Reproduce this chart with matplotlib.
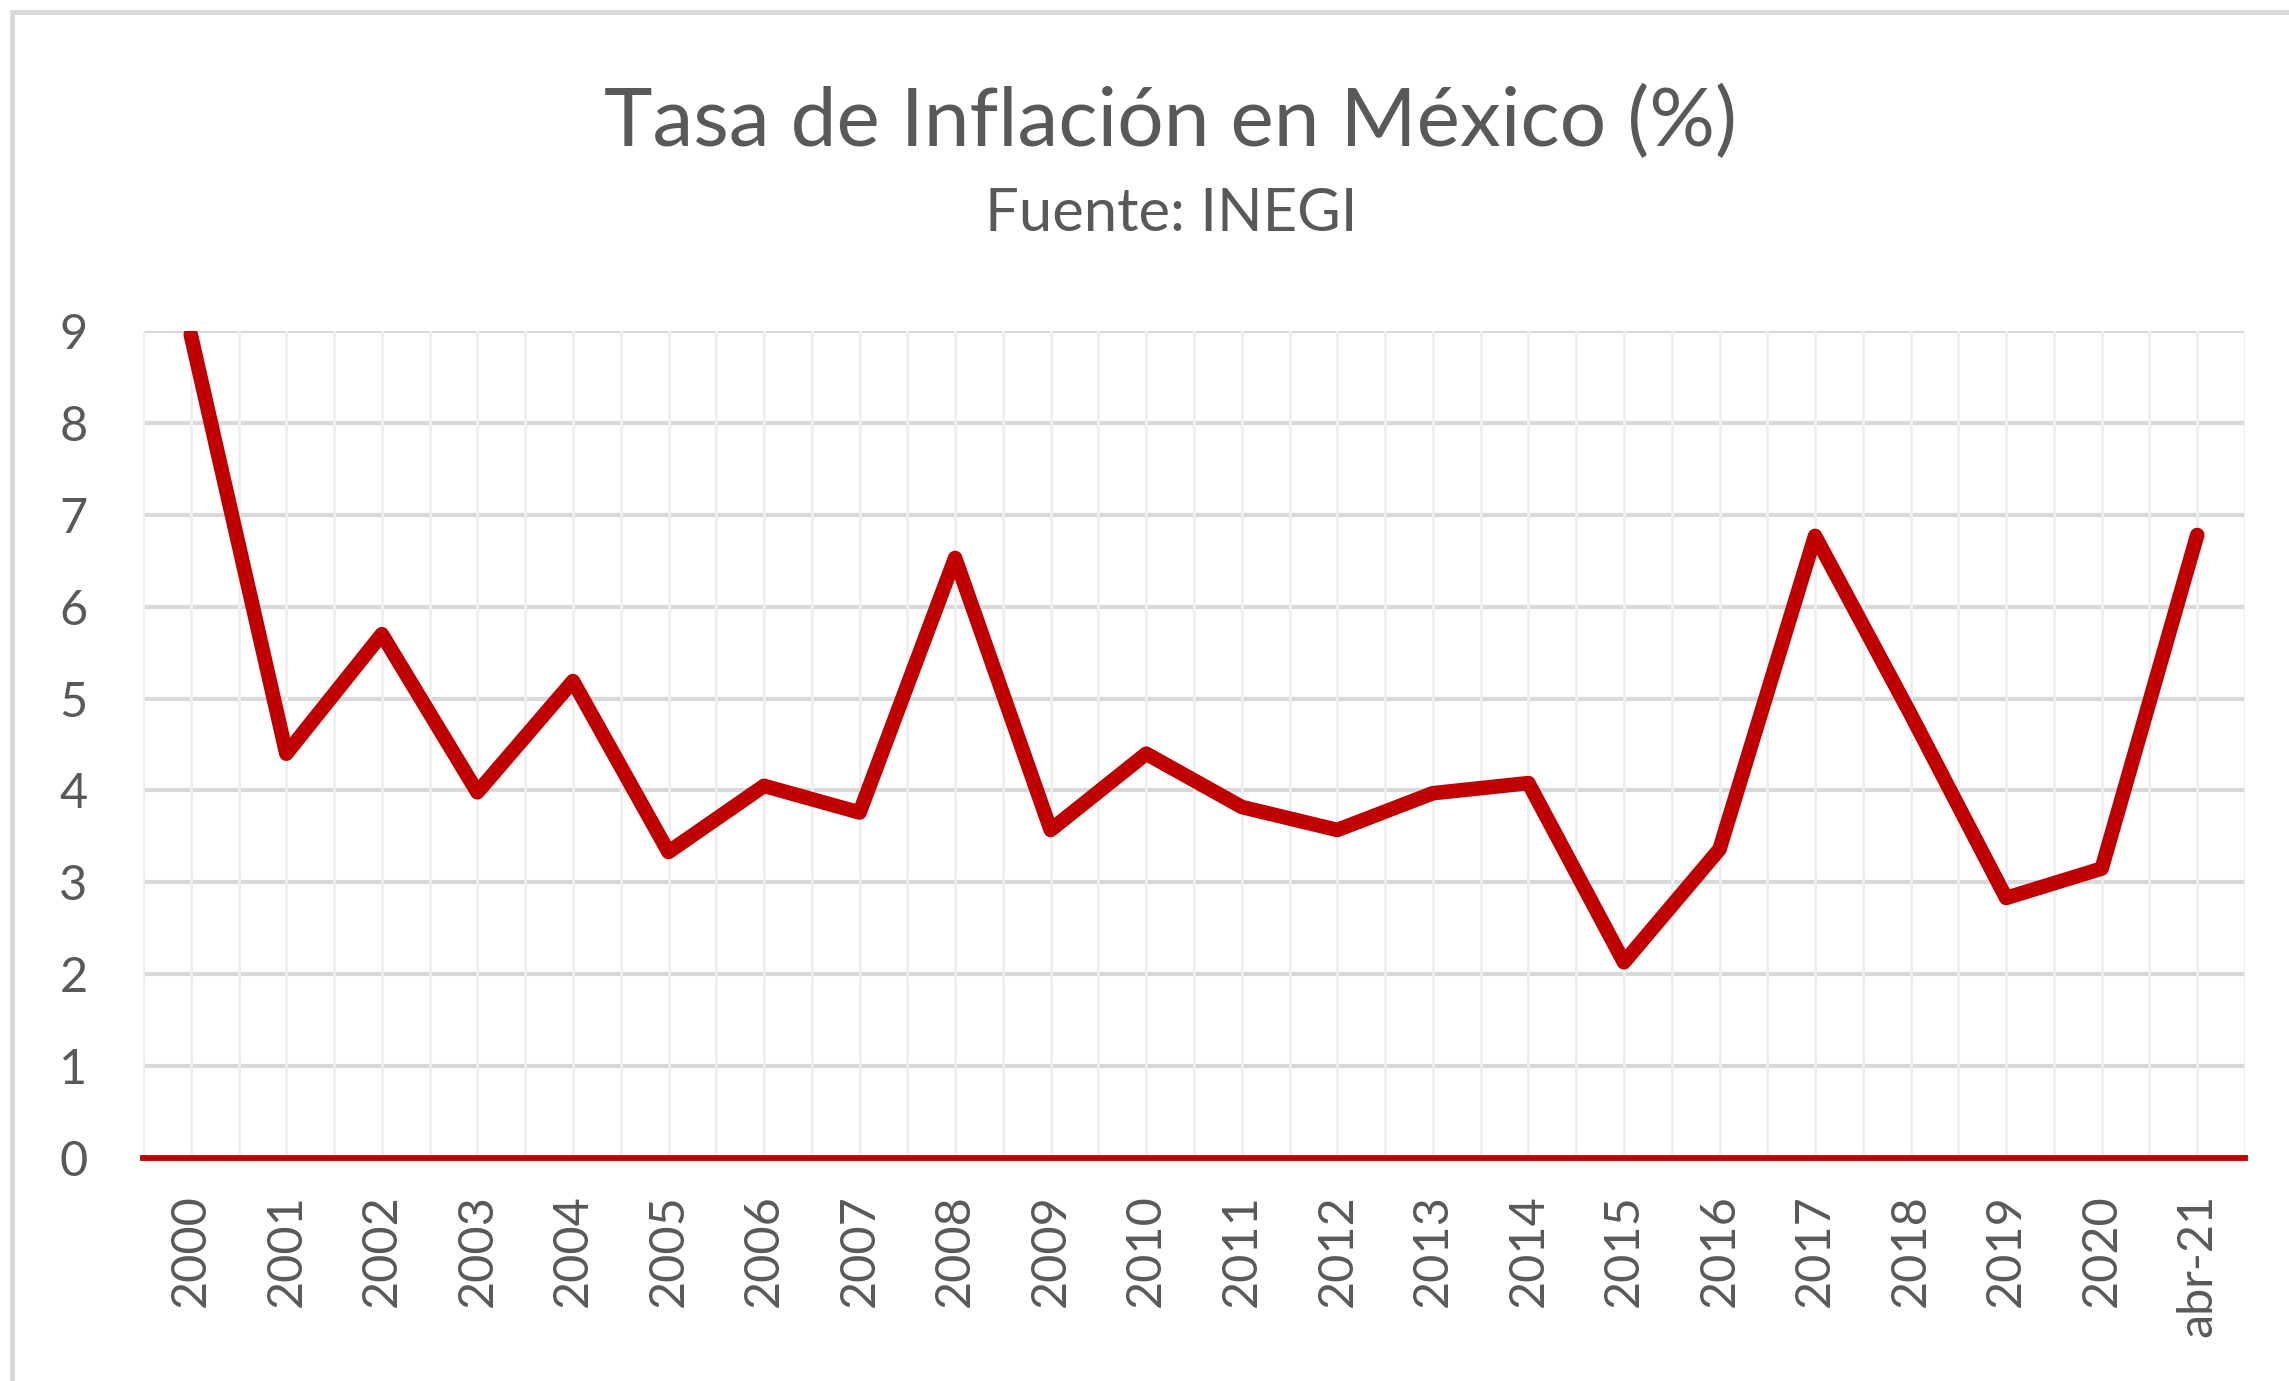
import matplotlib
matplotlib.use('Agg')
import matplotlib.pyplot as plt
from matplotlib.patches import Rectangle
import numpy as np

# datos
periodos = ['2000', '2001', '2002', '2003', '2004', '2005', '2006', '2007',
            '2008', '2009', '2010', '2011', '2012', '2013', '2014', '2015',
            '2016', '2017', '2018', '2019', '2020', 'abr-21']
inflacion = [8.96, 4.40, 5.70, 3.98, 5.19, 3.33, 4.05, 3.76,
             6.53, 3.57, 4.40, 3.82, 3.57, 3.97, 4.08, 2.13,
             3.36, 6.77, 4.83, 2.83, 3.15, 6.78]
y_ticks = [0, 1, 2, 3, 4, 5, 6, 7, 8, 9]

W, H = 2289, 1381
ROJO = '#C00000'
GRIS_TXT = '#595959'
plt.rcParams['font.family'] = ['Lato', 'DejaVu Sans']

fig = plt.figure(figsize=(W / 100, H / 100), dpi=100)

# marco del area del grafico (solo se ven arriba e izquierda)
fig.patches.append(Rectangle((12 / W, -0.1), 1.2, 1 - 12 / H + 0.1,
                             transform=fig.transFigure, fill=False,
                             edgecolor='#D9D9D9', lw=3.5))

left, right, top, bottom = 143, 2245, 331, 1158
ax = fig.add_axes([left / W, 1 - bottom / H, (right - left) / W, (bottom - top) / H])

x = np.arange(len(periodos))
ax.set_xlim(-0.5, len(periodos) - 0.5)
ax.set_ylim(0, 9)

# rejilla vertical clara: en cada categoria y entre categorias
for v in np.arange(-0.5, len(periodos), 0.5):
    ax.axvline(v, color='#EFEFEF', lw=2.2, zorder=2)
for t in y_ticks[1:]:
    ax.axhline(t, color='#D9D9D9', lw=3.0, zorder=1)

ax.plot(x, inflacion, color=ROJO, lw=10.5, solid_joinstyle='round',
        solid_capstyle='round', zorder=4)

for s in ['top', 'right', 'left']:
    ax.spines[s].set_visible(False)
ax.spines['bottom'].set_color(ROJO)
ax.spines['bottom'].set_linewidth(4.2)
ax.spines['bottom'].set_zorder(5)

ax.set_yticks(y_ticks)
ax.set_xticks(x)
ax.set_xticklabels(periodos, rotation=90)
ax.tick_params(axis='y', length=0, pad=40, labelsize=35, labelcolor=GRIS_TXT)
ax.tick_params(axis='x', length=0, pad=26, labelsize=35, labelcolor=GRIS_TXT)

fig.text(1171 / W, 1 - 146 / H, 'Tasa de Inflación en México (%)', ha='center',
         va='baseline', fontsize=59, color=GRIS_TXT)
fig.text(1171 / W, 1 - 231 / H, 'Fuente: INEGI', ha='center', va='baseline',
         fontsize=43, color=GRIS_TXT)

fig.savefig('out.png', dpi=100, facecolor='white')
